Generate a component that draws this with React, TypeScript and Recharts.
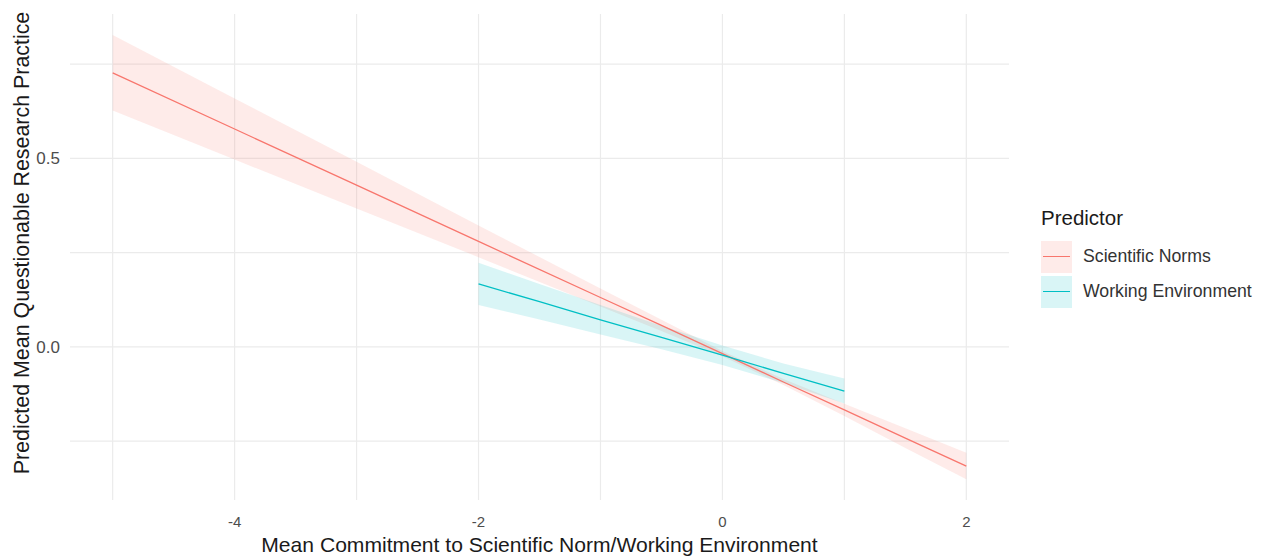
import { ComposedChart, Area, Line, XAxis, YAxis, CartesianGrid, Label } from "recharts";

// predicted values
const sciX = [-5, -4, -3, -2, -1, -0.5, 0, 0.5, 1, 1.5, 2];
const sciFit = [0.727, 0.578, 0.429, 0.28, 0.131, 0.057, -0.018, -0.093, -0.167, -0.242, -0.316];
const sciLow = [0.627, 0.497, 0.367, 0.238, 0.107, 0.042, -0.025, -0.101, -0.183, -0.268, -0.351];
const sciHigh = [0.827, 0.659, 0.491, 0.322, 0.155, 0.072, -0.011, -0.085, -0.151, -0.216, -0.281];

const workX = [-2, -1.5, -1, -0.5, 0, 0.5, 1];
const workFit = [0.167, 0.12, 0.072, 0.025, -0.022, -0.07, -0.117];
const workLow = [0.111, 0.073, 0.033, -0.006, -0.048, -0.096, -0.15];
const workHigh = [0.223, 0.167, 0.111, 0.056, 0.004, -0.044, -0.084];

const xTicks = [-4, -2, 0, 2];
const yTicks = [0, 0.5];
const xGrid = [-5, -4, -3, -2, -1, 0, 1, 2];
const yGrid = [-0.25, 0, 0.25, 0.5, 0.75];

const series = [
  { name: "Scientific Norms", color: "#F8766D", x: sciX, fit: sciFit, low: sciLow, high: sciHigh },
  { name: "Working Environment", color: "#00BFC4", x: workX, fit: workFit, low: workLow, high: workHigh },
];

const rows = (s: (typeof series)[number]) =>
  s.x.map((x, i) => ({ x, fit: s.fit[i], band: [s.low[i], s.high[i]] }));

const YTitle = () => {
  const cx = 22;
  const cy = 243;
  return (
    <text x={cx} y={cy} transform={`rotate(-90, ${cx}, ${cy})`} textAnchor="middle" dominantBaseline="central" fontSize={21.4} fill="#1a1a1a">
      Predicted Mean Questionable Research Practice
    </text>
  );
};

export default function App() {
  return (
    <div style={{ position: "absolute", left: 0, top: 0, width: 1262, height: 557, background: "#fff", fontFamily: "'Liberation Sans', Arial, sans-serif" }}>
      <ComposedChart width={1262} height={557} margin={{ top: 14, right: 253, left: 0, bottom: 0 }}>
        <CartesianGrid stroke="#EBEBEB" strokeWidth={1.2} horizontalValues={yGrid} verticalValues={xGrid} />
        <XAxis
          dataKey="x"
          type="number"
          domain={[-5.35, 2.35]}
          ticks={xTicks}
          allowDataOverflow
          axisLine={false}
          tickLine={false}
          tickSize={6}
          tickMargin={10}
          height={57}
          tick={{ fontSize: 15, fill: "#4d4d4d" }}
        >
          <Label value="Mean Commitment to Scientific Norm/Working Environment" position="insideBottom" offset={5} fontSize={21.1} fill="#1a1a1a" />
        </XAxis>
        <YAxis
          type="number"
          domain={[-0.406, 0.883]}
          ticks={yTicks}
          allowDataOverflow
          axisLine={false}
          tickLine={false}
          tickSize={6}
          tickMargin={4}
          width={70}
          tick={{ fontSize: 17, fill: "#4d4d4d" }}
          tickFormatter={(v) => v.toFixed(1)}
          label={<YTitle />}
        />
        {series.map((s) => (
          <Area
            key={s.name + "-band"}
            data={rows(s)}
            dataKey="band"
            type="linear"
            stroke="none"
            fill={s.color}
            fillOpacity={0.15}
            isAnimationActive={false}
          />
        ))}
        {series.map((s) => (
          <Line
            key={s.name}
            data={rows(s)}
            dataKey="fit"
            type="linear"
            stroke={s.color}
            strokeWidth={1.3}
            dot={false}
            isAnimationActive={false}
          />
        ))}
      </ComposedChart>
      <div style={{ position: "absolute", left: 1041, top: 206 }}>
        <div style={{ fontSize: 20.5, color: "#1a1a1a", marginBottom: 9 }}>Predictor</div>
        {series.map((s) => (
          <div key={s.name} style={{ display: "flex", alignItems: "center", height: 35 }}>
            <div style={{ width: 31, height: 32, background: s.color + "26", position: "relative" }}>
              <div style={{ position: "absolute", left: 2, right: 2, top: 15, height: 1.5, background: s.color }} />
            </div>
            <span style={{ marginLeft: 11, fontSize: 17.7, color: "#333" }}>{s.name}</span>
          </div>
        ))}
      </div>
    </div>
  );
}
